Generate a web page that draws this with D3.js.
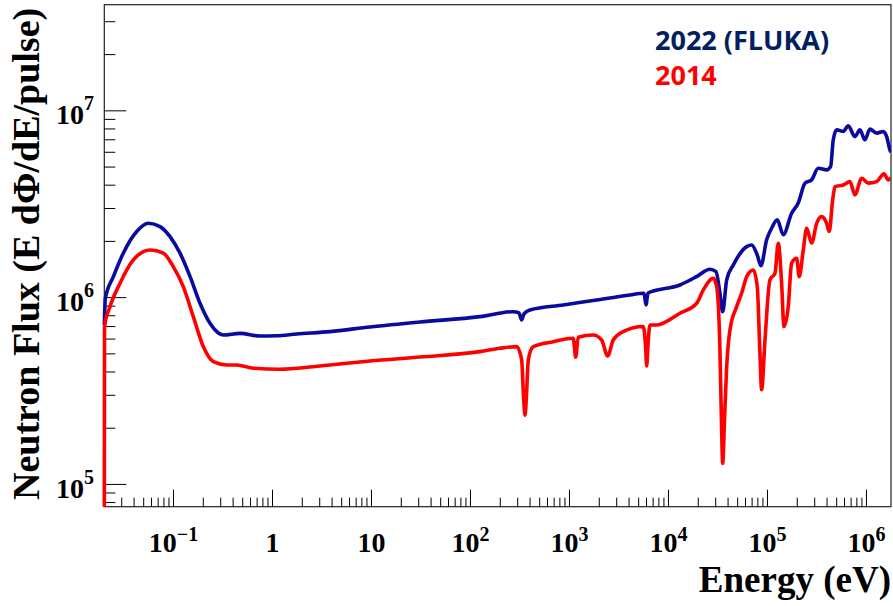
<!DOCTYPE html>
<html>
<head>
<meta charset="utf-8">
<script src="https://cdn.jsdelivr.net/npm/d3@7"></script>
<style>
html,body{margin:0;padding:0;background:#fff;}
svg{display:block;}
</style>
</head>
<body>
<svg id="chart" width="893" height="606"></svg>
<script>
// ---- data (energy in eV, flux E dPhi/dE per pulse) ----
const energy2022 = [0.02,0.0205,0.0247,0.0311,0.0425,0.0557,0.0731,0.0922,0.1164,0.1468,0.1852,0.2337,0.3185,0.4695,0.748,1.10,1.755,3.81,9.66,30.9,124.7,270.6,309,329,347,399,865,1884,4083,5662,5929,6209,13060,19270,26250,30200,33110,35300,38730,45190,61700,69200,78880,85900,98100,110200,125600,144500,175400,204600,239300,279300,325800,396300,434600,462000,500000,583000,654800,765000,859000,965000,1.084e6,1.267e6,1.479e6,1.600e6,1.726e6,1.77e6];
const flux2022 = [7.14e5,9.93e5,1.296e6,1.73e6,2.26e6,2.50e6,2.40e6,2.12e6,1.73e6,1.30e6,9.33e5,7.29e5,6.31e5,6.44e5,6.23e5,6.25e5,6.39e5,6.58e5,6.97e5,7.41e5,7.91e5,8.41e5,8.28e5,7.60e5,8.18e5,8.59e5,9.14e5,9.72e5,1.034e6,1.056e6,9.14e5,1.059e6,1.169e6,1.296e6,1.419e6,1.377e6,1.056e6,8.41e5,1.244e6,1.496e6,1.876e6,1.915e6,1.69e6,1.484e6,2.04e6,2.353e6,2.61e6,2.17e6,2.83e6,3.21e6,4.10e6,4.27e6,4.93e6,4.83e6,5.03e6,7.0e6,7.91e6,7.75e6,8.31e6,7.28e6,7.91e6,7.0e6,7.98e6,7.60e6,7.75e6,7.28e6,6.18e6,6.0e6];

const energy2014 = [0.02,0.0201,0.02284,0.02882,0.03926,0.05791,0.0789,0.0995,0.1256,0.1585,0.2,0.2523,0.3446,0.4349,0.6397,1.19,2.583,3.81,9.66,30.9,124.7,198.6,293,329,343,355.6,368,383.7,430.6,685.6,1092,1155,1227,1740,2115,2430,2768,3491,5560,5861,6026,6209,6501,7603,13060,19270,22490,28380,30690,33110,34280,35300,36810,38730,41780,48840,54830,61700,71900,78880,83950,87300,94400,105900,119100,128600,139000,146900,162200,175400,197200,209400,230100,248900,279300,314100,352400,396300,420700,456000,480800,583000,681000,765000,895000,1.042e6,1.267e6,1.503e6,1.663e6,1.77e6];
const flux2014 = [5.0e4,7.0e5,8.95e5,1.194e6,1.592e6,1.80e6,1.73e6,1.466e6,1.145e6,7.91e5,5.47e5,4.54e5,4.36e5,4.36e5,4.19e5,4.14e5,4.27e5,4.36e5,4.58e5,4.81e5,5.14e5,5.36e5,5.47e5,4.64e5,3.01e5,2.35e5,3.01e5,4.64e5,5.47e5,5.81e5,6.06e5,4.80e5,6.14e5,6.31e5,5.93e5,4.87e5,5.93e5,6.58e5,7.0e5,5.58e5,4.31e5,5.58e5,7.14e5,7.14e5,8.25e5,9.33e5,1.10e6,1.27e6,1.145e6,5.25e5,2.21e5,1.297e5,2.21e5,4.27e5,6.71e5,8.95e5,1.056e6,1.296e6,1.407e6,1.145e6,5.04e5,3.21e5,5.93e5,1.244e6,1.35e6,1.956e6,1.194e6,7.0e5,8.95e5,1.529e6,1.625e6,1.296e6,1.80e6,2.353e6,1.956e6,2.50e6,2.716e6,2.50e6,2.26e6,3.34e6,3.93e6,4.01e6,4.18e6,3.55e6,4.36e6,4.10e6,4.18e6,4.60e6,4.27e6,4.4e6];

const seriesNames = ["2022 (FLUKA)", "2014"];
const xMajorTicks = [0.1, 1, 10, 100, 1e3, 1e4, 1e5, 1e6];
const xTickLabels = [["10","\u22121"],["1",""],["10",""],["10","2"],["10","3"],["10","4"],["10","5"],["10","6"]];
const yMajorTicks = [1e5, 1e6, 1e7];
const yTickLabels = [["10","5"],["10","6"],["10","7"]];
const xTitle = "Energy (eV)";
const yTitle = "Neutron Flux (E d\u03A6/dE/pulse)";

// ---- layout ----
const svg = d3.select("#chart");
const L = 104.3, R = 891, T = 4.7, B = 506.7;
const x = d3.scaleLog().domain([0.02, 1.77e6]).range([L, R]);
const y = d3.scaleLog().domain([7.6e4, 3.7e7]).range([B, T]);

svg.append("defs").append("clipPath").attr("id","clip")
  .append("rect").attr("x",L - 2.5).attr("y",T).attr("width",R-L+2.5).attr("height",B-T);

// frame
svg.append("rect").attr("x", L).attr("y", T).attr("width", R - L).attr("height", B - T)
  .attr("fill", "none").attr("stroke", "#222").attr("stroke-width", 1.2);

// minor ticks
const xMinor = [];
for (let k = -2; k <= 6; k++) for (let m = 2; m <= 9; m++) {
  const v = m * Math.pow(10, k);
  if (v > 0.02 && v < 1.77e6) xMinor.push(v);
}
const yMinor = [];
for (let k = 4; k <= 7; k++) for (let m = 2; m <= 9; m++) {
  const v = m * Math.pow(10, k);
  if (v > 7.6e4 && v < 3.7e7) yMinor.push(v);
}

const g = svg.append("g");
// x ticks
g.selectAll(".xmin").data(xMinor).enter().append("line")
  .attr("x1", d => x(d)).attr("x2", d => x(d)).attr("y1", B).attr("y2", B - 9)
  .attr("stroke", "#000").attr("stroke-width", 1);
g.selectAll(".xmaj").data(xMajorTicks).enter().append("line")
  .attr("x1", d => x(d)).attr("x2", d => x(d)).attr("y1", B).attr("y2", B - 17)
  .attr("stroke", "#000").attr("stroke-width", 1);
// y ticks
g.selectAll(".ymin").data(yMinor).enter().append("line")
  .attr("x1", L).attr("x2", L + 11).attr("y1", d => y(d)).attr("y2", d => y(d))
  .attr("stroke", "#000").attr("stroke-width", 1);
g.selectAll(".ymaj").data(yMajorTicks).enter().append("line")
  .attr("x1", L).attr("x2", L + 22).attr("y1", d => y(d)).attr("y2", d => y(d))
  .attr("stroke", "#000").attr("stroke-width", 1);

const serif = "'Liberation Serif','Times New Roman',serif";

// x tick labels
xMajorTicks.forEach((v, i) => {
  const [base, sup] = xTickLabels[i];
  const t = g.append("text").attr("x", x(v)).attr("y", 551.5)
    .attr("text-anchor", "middle").attr("font-family", serif)
    .attr("font-weight", "bold").attr("font-size", 28).attr("fill", "#000");
  t.append("tspan").text(base);
  if (sup) t.append("tspan").attr("dy", -11).attr("font-size", 20).text(sup);
});
// y tick labels
yMajorTicks.forEach((v, i) => {
  const [base, sup] = yTickLabels[i];
  const t = g.append("text").attr("x", 94).attr("y", y(v) + 13.5)
    .attr("text-anchor", "end").attr("font-family", serif)
    .attr("font-weight", "bold").attr("font-size", 28).attr("fill", "#000");
  t.append("tspan").text(base);
  t.append("tspan").attr("dy", -14).attr("font-size", 20).text(sup);
});

// axis titles
g.append("text").attr("x", 891).attr("y", 592).attr("text-anchor", "end")
  .attr("font-family", serif).attr("font-weight", "bold").attr("font-size", 37)
  .attr("fill", "#000").text(xTitle);
g.append("text").attr("transform", "translate(39,500) rotate(-90)")
  .attr("text-anchor", "start")
  .attr("font-family", serif).attr("font-weight", "bold").attr("font-size", 38)
  .attr("fill", "#000").text(yTitle);

// curves
const line = d3.line().x(d => x(d[0])).y(d => y(d[1])).curve(d3.curveMonotoneX);
const plot = svg.append("g").attr("clip-path", "url(#clip)");
plot.append("path").datum(energy2022.map((e, i) => [e, flux2022[i]]))
  .attr("d", line).attr("fill", "none").attr("stroke", "#0a0a9e")
  .attr("stroke-width", 3.6).attr("stroke-linejoin", "round");
plot.append("path").datum(energy2014.map((e, i) => [e, flux2014[i]]))
  .attr("d", line).attr("fill", "none").attr("stroke", "#ff0000")
  .attr("stroke-width", 3.6).attr("stroke-linejoin", "round");

// legend
const sans = "'Open Sans','Liberation Sans',sans-serif";
svg.append("text").attr("x", 655).attr("y", 50).attr("font-family", sans)
  .attr("font-weight", "bold").attr("font-size", 27).attr("fill", "#002060").text(seriesNames[0]);
svg.append("text").attr("x", 655).attr("y", 85).attr("font-family", sans)
  .attr("font-weight", "bold").attr("font-size", 27).attr("fill", "#ff0000").text(seriesNames[1]);
</script>
</body>
</html>
